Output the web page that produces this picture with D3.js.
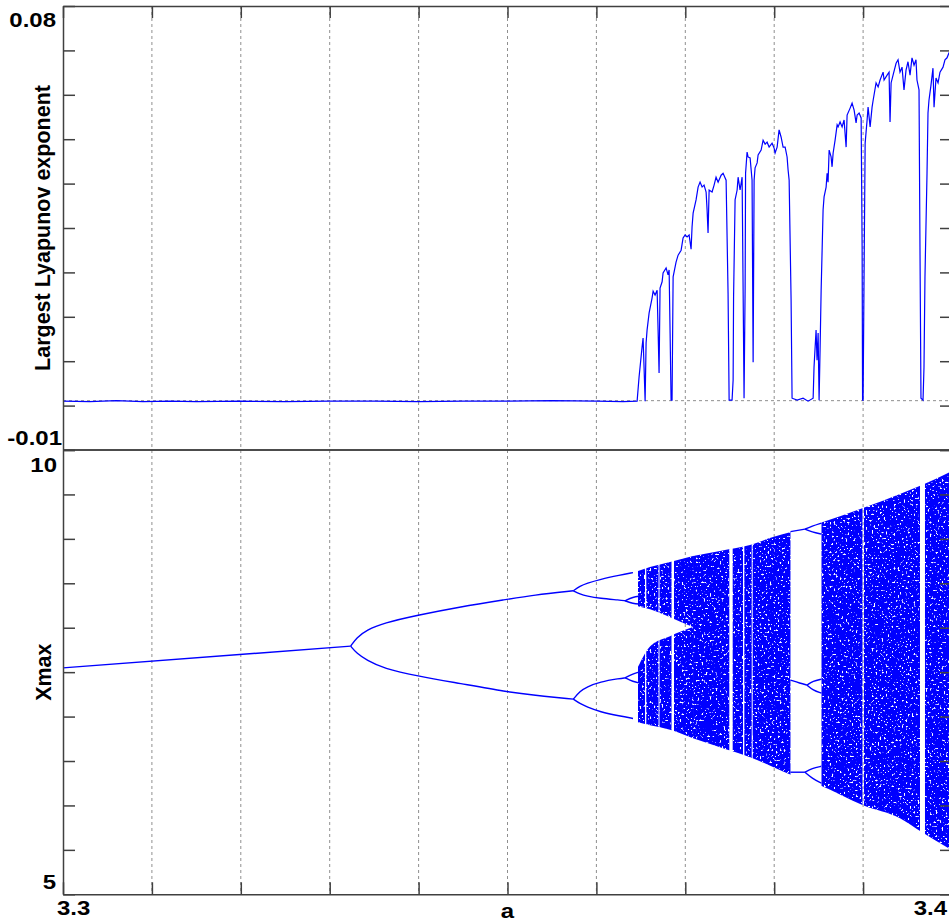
<!DOCTYPE html>
<html>
<head>
<meta charset="utf-8">
<script src="https://cdnjs.cloudflare.com/ajax/libs/d3/7.8.5/d3.min.js"></script>
<style>
  html, body { margin: 0; padding: 0; background: #fff; }
  svg { display: block; }
  .lbl { font-family: "Liberation Sans", Arial, sans-serif; font-weight: bold; font-size: 20px; fill: #000; }
  .title { font-family: "Liberation Sans", Arial, sans-serif; font-weight: bold; font-size: 21.5px; fill: #000; }
  .axis path, .axis line { stroke: #404040; stroke-width: 1.5; }
  .axis text { display: none; }
</style>
</head>
<body>
<div id="chart"></div>
<script>
// --------------- Data ---------------
const xTicks = d3.range(11).map(i => 3.3 + i * 0.01);
const lyapTicks = d3.range(11).map(i => -0.01 + i * 0.009);
const xmaxTicks = d3.range(11).map(i => 5 + i * 0.5);
const xTickLabels = ["3.3", "3.4"];
const lyapTickLabels = ["0.08", "-0.01"];
const xmaxTickLabels = ["10", "5"];

// largest Lyapunov exponent, [a, lambda]
const lyapunov = [
  [3.3000, -0.0001], [3.3030, -0.0002], [3.3060, 0.0000], [3.3090, -0.0002], [3.3120, -0.0001],
  [3.3150, -0.0002], [3.3200, -0.0001], [3.3250, -0.0002], [3.3300, -0.0001], [3.3350, -0.0001],
  [3.3400, -0.0002], [3.3450, -0.0001], [3.3500, -0.0001], [3.3550, 0.0000], [3.3600, -0.0001],
  [3.3630, -0.0002], [3.36458, -0.0001], [3.36480, 0.0048], [3.36514, 0.0109], [3.36525, 0.0127],
  [3.36536, 0.0068], [3.36548, -0.0001], [3.36559, 0.0117], [3.36570, 0.0143], [3.36593, 0.0178],
  [3.36626, 0.0208], [3.36638, 0.0222], [3.36660, 0.0214], [3.36683, 0.0224], [3.36694, 0.0143],
  [3.36705, 0.0056], [3.36716, 0.0228], [3.36739, 0.0241], [3.36750, 0.0259], [3.36784, 0.0269],
  [3.36806, 0.0255], [3.36818, 0.0265], [3.36829, 0.0137], [3.36840, 0.0001], [3.36851, 0.0001],
  [3.36863, 0.0251], [3.36896, 0.0281], [3.36919, 0.0295], [3.36953, 0.0305], [3.36975, 0.0330],
  [3.36998, 0.0336], [3.37020, 0.0332], [3.37043, 0.0336], [3.37065, 0.0307], [3.37076, 0.0352],
  [3.37088, 0.0380], [3.37121, 0.0407], [3.37144, 0.0433], [3.37166, 0.0443], [3.37189, 0.0433],
  [3.37211, 0.0437], [3.37234, 0.0423], [3.37245, 0.0387], [3.37256, 0.0340], [3.37268, 0.0427],
  [3.37301, 0.0423], [3.37324, 0.0437], [3.37346, 0.0453], [3.37369, 0.0443], [3.37403, 0.0457],
  [3.37425, 0.0461], [3.37459, 0.0447], [3.37481, 0.0218], [3.37493, 0.0001], [3.37526, 0.0001],
  [3.37538, 0.0042], [3.37543, 0.0210], [3.37560, 0.0407], [3.37583, 0.0427], [3.37594, 0.0453],
  [3.37616, 0.0427], [3.37639, 0.0453], [3.37650, 0.0230], [3.37661, 0.0005], [3.37673, 0.0230],
  [3.37678, 0.0461], [3.37695, 0.0504], [3.37706, 0.0494], [3.37729, 0.0492], [3.37751, 0.0447],
  [3.37763, 0.0078], [3.37774, 0.0447], [3.37785, 0.0472], [3.37808, 0.0482], [3.37819, 0.0498],
  [3.37853, 0.0508], [3.37875, 0.0528], [3.37898, 0.0520], [3.37920, 0.0524], [3.37943, 0.0514],
  [3.37976, 0.0522], [3.37999, 0.0512], [3.38010, 0.0502], [3.38033, 0.0514], [3.38055, 0.0549],
  [3.38078, 0.0534], [3.38100, 0.0514], [3.38123, 0.0514], [3.38145, 0.0494], [3.38156, 0.0468],
  [3.38168, 0.0447], [3.38190, 0.0204], [3.38201, 0.0005], [3.38258, 0.0001], [3.38325, 0.0005],
  [3.38381, -0.0001], [3.38438, 0.0005], [3.38448, 0.0068], [3.38471, 0.0143], [3.38482, 0.0082],
  [3.38494, 0.0137], [3.38505, 0.0001], [3.38516, 0.0103], [3.38528, 0.0224], [3.38539, 0.0305],
  [3.38550, 0.0387], [3.38561, 0.0413], [3.38584, 0.0433], [3.38595, 0.0461], [3.38606, 0.0443],
  [3.38618, 0.0508], [3.38640, 0.0494], [3.38651, 0.0474], [3.38663, 0.0502], [3.38685, 0.0528],
  [3.38708, 0.0559], [3.38719, 0.0555], [3.38741, 0.0565], [3.38764, 0.0555], [3.38786, 0.0569],
  [3.38809, 0.0514], [3.38820, 0.0579], [3.38854, 0.0593], [3.38876, 0.0603], [3.38899, 0.0589],
  [3.38921, 0.0563], [3.38933, 0.0579], [3.38955, 0.0583], [3.38978, 0.0573], [3.38989, 0.0311],
  [3.38994, 0.0001], [3.39000, 0.0001], [3.39011, 0.0259], [3.39023, 0.0522], [3.39045, 0.0569],
  [3.39056, 0.0595], [3.39079, 0.0555], [3.39101, 0.0595], [3.39113, 0.0609], [3.39146, 0.0644],
  [3.39169, 0.0636], [3.39191, 0.0650], [3.39225, 0.0666], [3.39236, 0.0650], [3.39270, 0.0660],
  [3.39292, 0.0666], [3.39303, 0.0565], [3.39315, 0.0644], [3.39337, 0.0660], [3.39371, 0.0684],
  [3.39393, 0.0691], [3.39415, 0.0666], [3.39438, 0.0676], [3.39460, 0.0630], [3.39483, 0.0670],
  [3.39505, 0.0687], [3.39528, 0.0660], [3.39550, 0.0695], [3.39573, 0.0680], [3.39595, 0.0691],
  [3.39606, 0.0650], [3.39629, 0.0630], [3.39640, 0.0305], [3.39651, 0.0005], [3.39674, 0.0001],
  [3.39685, 0.0068], [3.39696, 0.0251], [3.39719, 0.0461], [3.39730, 0.0583], [3.39741, 0.0609],
  [3.39764, 0.0640], [3.39786, 0.0674], [3.39798, 0.0595], [3.39820, 0.0654], [3.39843, 0.0644],
  [3.39865, 0.0666], [3.39899, 0.0676], [3.39921, 0.0691], [3.39944, 0.0695], [3.39966, 0.0705],
  [3.40000, 0.0711]
];

// periodic branches of Xmax, each a list of [a, Xmax]
const branches = [
  // period 1
  [[3.3000, 7.548], [3.33236, 7.793]],
  // period 2
  [[3.33236, 7.793], [3.33304, 7.890], [3.33416, 7.974], [3.33603, 8.053], [3.33997, 8.142],
   [3.34466, 8.235], [3.34991, 8.319], [3.35290, 8.367], [3.35740, 8.416]],
  [[3.33236, 7.793], [3.33304, 7.711], [3.33416, 7.635], [3.33603, 7.542], [3.33997, 7.455],
   [3.34466, 7.373], [3.34991, 7.278], [3.35290, 7.241], [3.35740, 7.196]],
  // period 4
  [[3.35740, 8.416], [3.35816, 8.468], [3.35891, 8.499], [3.36040, 8.544], [3.36265, 8.592], [3.36412, 8.620]],
  [[3.35740, 8.416], [3.35816, 8.378], [3.35891, 8.356], [3.36040, 8.330], [3.36265, 8.311], [3.36322, 8.303]],
  [[3.35740, 7.196], [3.35816, 7.286], [3.35891, 7.334], [3.36040, 7.391], [3.36265, 7.429], [3.36322, 7.436]],
  [[3.35740, 7.196], [3.35816, 7.145], [3.35891, 7.109], [3.36040, 7.053], [3.36265, 7.005], [3.36412, 6.979]],
  // period 8
  [[3.36322, 8.303], [3.36412, 8.345], [3.36490, 8.356]],
  [[3.36322, 8.303], [3.36412, 8.271], [3.36490, 8.266]],
  [[3.36322, 7.436], [3.36412, 7.483], [3.36490, 7.503]],
  [[3.36322, 7.436], [3.36412, 7.393], [3.36490, 7.376]],
  // period-3 window
  [[3.38183, 9.082], [3.38346, 9.110]],
  [[3.38346, 9.110], [3.38425, 9.144], [3.38532, 9.178]],
  [[3.38346, 9.110], [3.38425, 9.077], [3.38532, 9.054]],
  [[3.38183, 7.410], [3.38290, 7.376], [3.38369, 7.354]],
  [[3.38369, 7.354], [3.38436, 7.399], [3.38532, 7.421]],
  [[3.38369, 7.354], [3.38436, 7.297], [3.38532, 7.264]],
  [[3.38183, 6.374], [3.38346, 6.374]],
  [[3.38346, 6.374], [3.38425, 6.419], [3.38532, 6.441]],
  [[3.38346, 6.374], [3.38425, 6.306], [3.38532, 6.250]]
];

// chaotic bands, [a, low, high]
const upperBand = [[3.36468, 8.243, 8.637], [3.36603, 8.209, 8.682], [3.36828, 8.119, 8.739], [3.37087, 8.007, 8.806]];
const lowerBand = [[3.36468, 6.937, 7.560], [3.36603, 6.903, 7.790], [3.36828, 6.853, 7.905], [3.37087, 6.757, 8.007]];
const mergedBand = [
  [3.37087, 6.757, 8.806], [3.37390, 6.655, 8.863], [3.37728, 6.543, 8.930], [3.37987, 6.434, 9.020],
  [3.38200, 6.340, 9.080], [3.38515, 6.228, 9.178], [3.38999, 6.002, 9.347], [3.39415, 5.856, 9.505],
  [3.39663, 5.698, 9.606], [3.40000, 5.495, 9.764]
];

// periodic windows inside the chaos, [a start, a end]
const windows = [
  [3.36547, 3.36561], [3.36699, 3.36710], [3.36845, 3.36873], [3.37495, 3.37533], [3.37649, 3.37664],
  [3.37747, 3.37758], [3.38183, 3.38532], [3.38993, 3.39010], [3.39640, 3.39696]
];

// --------------- Layout ---------------
const WIDTH = 949;
const HEIGHT = 922;
const LEFT = 63;
const RIGHT = 952;
const TOP_PANEL = [6, 450];
const BOTTOM_PANEL = [450, 894.3];
const TICK_LEN = 12;
const BLUE = "#0000ff";
const GRID = "#8f8f8f";

const x = d3.scaleLinear().domain([3.3, 3.4]).range([LEFT, RIGHT]);
const yLyap = d3.scaleLinear().domain([-0.01, 0.08]).range([TOP_PANEL[1], TOP_PANEL[0]]);
const yXmax = d3.scaleLinear().domain([5, 10]).range([BOTTOM_PANEL[1], BOTTOM_PANEL[0]]);

const svg = d3
  .select("#chart")
  .append("svg")
  .attr("width", WIDTH)
  .attr("height", HEIGHT);

svg.append("rect").attr("width", WIDTH).attr("height", HEIGHT).attr("fill", "#fff");

const defs = svg.append("defs");

// white speckles on the chaotic region
const speckle = defs
  .append("filter")
  .attr("id", "speckle")
  .attr("color-interpolation-filters", "sRGB");
speckle
  .append("feTurbulence")
  .attr("type", "fractalNoise")
  .attr("baseFrequency", 0.5)
  .attr("numOctaves", 3)
  .attr("seed", 7)
  .attr("result", "noise");
speckle
  .append("feColorMatrix")
  .attr("in", "noise")
  .attr("type", "matrix")
  .attr("values", "0 0 0 0 1  0 0 0 0 1  0 0 0 0 1  12 0 0 0 -7.5")
  .attr("result", "white");
speckle
  .append("feComposite")
  .attr("in", "white")
  .attr("in2", "SourceAlpha")
  .attr("operator", "in")
  .attr("result", "dots");
const merge = speckle.append("feMerge");
merge.append("feMergeNode").attr("in", "SourceGraphic");
merge.append("feMergeNode").attr("in", "dots");

// windows cut out of the chaotic region
const mask = defs
  .append("mask")
  .attr("id", "windowMask")
  .attr("maskUnits", "userSpaceOnUse")
  .attr("x", 0).attr("y", 0)
  .attr("width", WIDTH).attr("height", HEIGHT);
mask.append("rect").attr("width", WIDTH).attr("height", HEIGHT).attr("fill", "#fff");
mask
  .selectAll(null)
  .data(windows)
  .enter()
  .append("rect")
  .attr("x", d => x(d[0]))
  .attr("width", d => x(d[1]) - x(d[0]))
  .attr("y", BOTTOM_PANEL[0])
  .attr("height", BOTTOM_PANEL[1] - BOTTOM_PANEL[0])
  .attr("fill", "#000");

// --------------- Grid ---------------
svg
  .append("g")
  .selectAll("line")
  .data(xTicks.slice(1, -1))
  .join("line")
  .attr("x1", d => x(d))
  .attr("x2", d => x(d))
  .attr("y1", TOP_PANEL[0])
  .attr("y2", BOTTOM_PANEL[1])
  .attr("stroke", GRID)
  .attr("stroke-dasharray", "3,3");

svg
  .append("line")
  .attr("x1", LEFT)
  .attr("x2", RIGHT)
  .attr("y1", yLyap(0))
  .attr("y2", yLyap(0))
  .attr("stroke", GRID)
  .attr("stroke-dasharray", "3,3");

// --------------- Top panel: Lyapunov exponent ---------------
svg
  .append("path")
  .datum(lyapunov)
  .attr("fill", "none")
  .attr("stroke", BLUE)
  .attr("stroke-width", 1.2)
  .attr("d", d3.line().x(d => x(d[0])).y(d => yLyap(d[1])));

// --------------- Bottom panel: bifurcation diagram ---------------
const band = d3
  .area()
  .x(d => x(d[0]))
  .y0(d => yXmax(d[1]))
  .y1(d => yXmax(d[2]))
  .curve(d3.curveMonotoneX);

svg
  .append("g")
  .attr("mask", "url(#windowMask)")
  .append("g")
  .attr("filter", "url(#speckle)")
  .selectAll("path")
  .data([upperBand, lowerBand, mergedBand])
  .join("path")
  .attr("d", band)
  .attr("fill", BLUE);

const branchLine = d3
  .line()
  .x(d => x(d[0]))
  .y(d => yXmax(d[1]))
  .curve(d3.curveBasis);

svg
  .append("g")
  .selectAll("path")
  .data(branches)
  .join("path")
  .attr("d", branchLine)
  .attr("fill", "none")
  .attr("stroke", BLUE)
  .attr("stroke-width", 1.4);

// --------------- Axes ---------------
function drawPanelAxes(yScale, yTickValues, panel, tickSide) {
  svg.append("g").attr("class", "axis")
    .attr("transform", `translate(${LEFT},0)`)
    .call(d3.axisLeft(yScale).tickValues(yTickValues).tickSize(-TICK_LEN).tickSizeOuter(0));
  svg.append("g").attr("class", "axis")
    .attr("transform", `translate(${RIGHT},0)`)
    .call(d3.axisRight(yScale).tickValues(yTickValues).tickSize(-TICK_LEN).tickSizeOuter(0));
  const xAxis = tickSide === "top" ? d3.axisTop(x) : d3.axisBottom(x);
  svg.append("g").attr("class", "axis")
    .attr("transform", `translate(0,${tickSide === "top" ? panel[0] : panel[1]})`)
    .call(xAxis.tickValues(xTicks).tickSize(-TICK_LEN).tickSizeOuter(0));
  svg.append("line")
    .attr("x1", LEFT).attr("x2", RIGHT)
    .attr("y1", tickSide === "top" ? panel[1] : panel[0])
    .attr("y2", tickSide === "top" ? panel[1] : panel[0])
    .attr("stroke", "#404040").attr("stroke-width", 1.5);
}

drawPanelAxes(yLyap, lyapTicks, TOP_PANEL, "top");
drawPanelAxes(yXmax, xmaxTicks, BOTTOM_PANEL, "bottom");

// --------------- Labels ---------------
function label(text, px, py, anchor) {
  svg.append("text")
    .attr("class", "lbl")
    .attr("text-anchor", anchor)
    .attr("transform", `translate(${px},${py}) scale(1.2,1)`)
    .text(text);
}

label(lyapTickLabels[0], 56, yLyap(0.08) + 21, "end");
label(lyapTickLabels[1], 62, yLyap(-0.01) - 5, "end");
label(xmaxTickLabels[0], 57, yXmax(10) + 22, "end");
label(xmaxTickLabels[1], 56, yXmax(5) - 5, "end");
label(xTickLabels[0], x(3.3) - 6, BOTTOM_PANEL[1] + 21, "start");
label(xTickLabels[1], x(3.4) - 5, BOTTOM_PANEL[1] + 21, "end");
label("a", x(3.35), BOTTOM_PANEL[1] + 24, "middle");

svg.append("text")
  .attr("class", "title")
  .attr("text-anchor", "middle")
  .attr("transform", `translate(50,${(TOP_PANEL[0] + TOP_PANEL[1]) / 2}) rotate(-90)`)
  .text("Largest Lyapunov exponent");

svg.append("text")
  .attr("class", "title")
  .attr("text-anchor", "middle")
  .attr("transform", `translate(51,${(BOTTOM_PANEL[0] + BOTTOM_PANEL[1]) / 2}) rotate(-90)`)
  .text("Xmax");
</script>
</body>
</html>
